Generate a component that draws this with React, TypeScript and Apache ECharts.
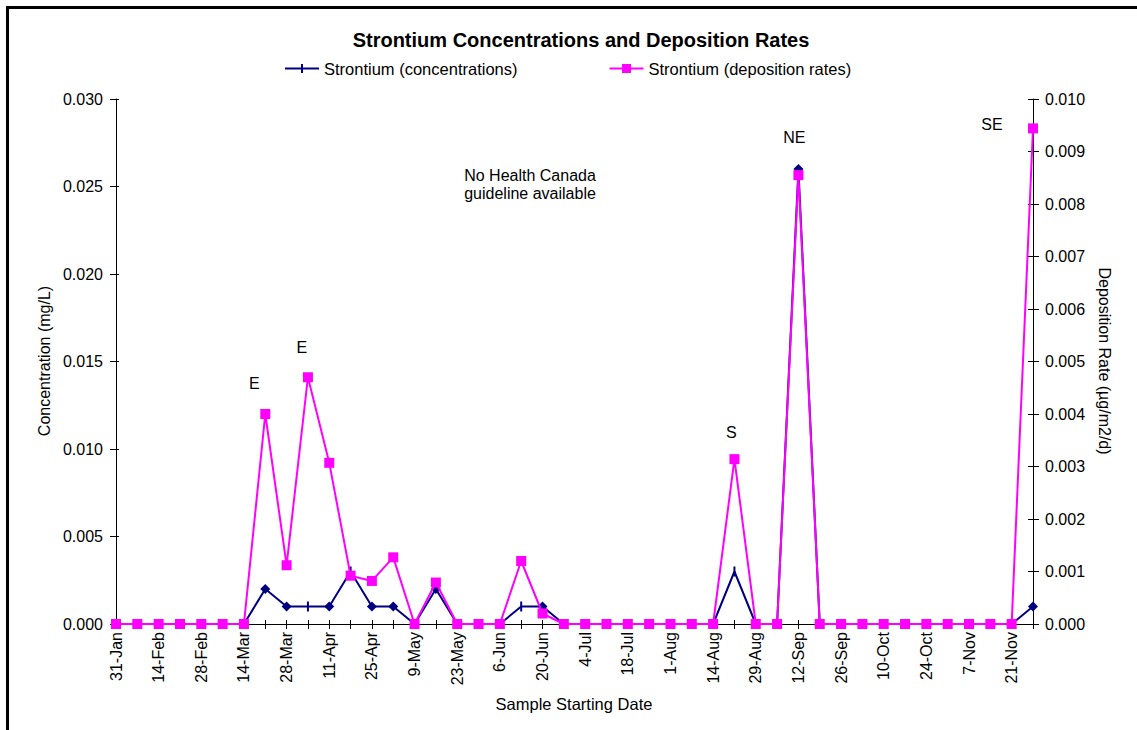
import React, { useEffect, useRef } from "react";
import * as echarts from "echarts";

// Weekly sample starting dates (every second one is labelled on the axis)
const sampleDates = [
  "31-Jan", "7-Feb", "14-Feb", "21-Feb", "28-Feb", "7-Mar", "14-Mar", "21-Mar",
  "28-Mar", "4-Apr", "11-Apr", "18-Apr", "25-Apr", "2-May", "9-May", "16-May",
  "23-May", "30-May", "6-Jun", "13-Jun", "20-Jun", "27-Jun", "4-Jul", "11-Jul",
  "18-Jul", "25-Jul", "1-Aug", "8-Aug", "14-Aug", "22-Aug", "29-Aug", "5-Sep",
  "12-Sep", "19-Sep", "26-Sep", "3-Oct", "10-Oct", "17-Oct", "24-Oct", "31-Oct",
  "7-Nov", "14-Nov", "21-Nov", "28-Nov",
];

// Strontium concentration, mg/L (left axis)
const concentration = [
  0, 0, 0, 0, 0, 0, 0, 0.002,
  0.001, 0.001, 0.001, 0.003, 0.001, 0.001, 0, 0.002,
  0, 0, 0, 0.001, 0.001, 0, 0, 0,
  0, 0, 0, 0, 0, 0.003, 0, 0,
  0.026, 0, 0, 0, 0, 0, 0, 0,
  0, 0, 0, 0.001,
];

// Strontium deposition rate, µg/m2/d (right axis)
const deposition = [
  0, 0, 0, 0, 0, 0, 0, 0.0040,
  0.00112, 0.0047, 0.00307, 0.00092, 0.00082, 0.00127, 0, 0.00079,
  0, 0, 0, 0.0012, 0.0002, 0, 0, 0,
  0, 0, 0, 0, 0, 0.00314, 0, 0,
  0.00855, 0, 0, 0, 0, 0, 0, 0,
  0, 0, 0, 0.00944,
];

// Prevailing wind direction noted above selected deposition samples
const windNotes: { index: number; text: string }[] = [
  { index: 7, text: "E" },
  { index: 9, text: "E" },
  { index: 29, text: "S" },
  { index: 32, text: "NE" },
  { index: 43, text: "SE" },
];

const concTicks = [0, 0.005, 0.01, 0.015, 0.02, 0.025, 0.03];
const depTicks = [0, 0.001, 0.002, 0.003, 0.004, 0.005, 0.006, 0.007, 0.008, 0.009, 0.01];

// Samples whose concentration marker is drawn as a diamond rather than a dash
const diamondSamples = [7, 8, 10, 12, 13, 15, 20, 32, 43];

// Label placement for the wind-direction notes (relative to the point)
const noteOffsets: Record<number, [number, number]> = {
  7: [-11, -31],
  9: [-6, -30],
  29: [-3, -27],
  32: [-4, -38],
  43: [-41, -4],
};

const FONT = "'Liberation Sans', Arial, Helvetica, sans-serif";
const NAVY = "#000080";
const MAGENTA = "#FF00FF";

const CONC_NAME = "Strontium (concentrations)";
const DEP_NAME = "Strontium (deposition rates)";

export default function App() {
  const ref = useRef<HTMLDivElement>(null);

  useEffect(() => {
    if (!ref.current) return;
    const chart = echarts.init(ref.current, undefined, { renderer: "svg" });

    const concData = concentration.map((v, i) => {
      const diamond = diamondSamples.includes(i);
      return {
        value: v,
        symbol: diamond ? "diamond" : "rect",
        symbolSize: diamond ? 10 : [2, 10],
      };
    });

    const depData = deposition.map((v, i) => {
      const note = windNotes.find((n) => n.index === i);
      if (!note) return v;
      return {
        value: v,
        label: {
          show: true,
          formatter: note.text,
          position: "inside",
          offset: noteOffsets[i] || [0, -30],
          color: "#000",
          fontSize: 16,
          fontFamily: FONT,
        },
      };
    });

    const tickFmt = (v: number) => v.toFixed(3);
    const axisCommon = {
      type: "value" as const,
      splitLine: { show: false },
    };

    chart.setOption({
      animation: false,
      backgroundColor: "#fff",
      textStyle: { fontFamily: FONT },
      title: {
        text: "Strontium Concentrations and Deposition Rates",
        left: 576,
        textAlign: "center",
        top: 25,
        textStyle: { fontSize: 20, fontWeight: "bold", color: "#000", fontFamily: FONT },
      },
      legend: {
        left: 285,
        top: 60,
        padding: 0,
        itemWidth: 34,
        itemHeight: 9,
        itemGap: 92,
        textStyle: { fontSize: 16.5, color: "#000", fontFamily: FONT },
        data: [
          { name: CONC_NAME, icon: "path://M0,3.5H34V5.5H0Z M16,0H18V9H16Z" },
          { name: DEP_NAME, icon: "path://M0,3.5H34V5.5H0Z M12.5,0H21.5V9H12.5Z" },
        ],
      },
      grid: { left: 116, right: 104, top: 99, bottom: 106, containLabel: false },
      xAxis: [
        {
          type: "category",
          data: sampleDates,
          boundaryGap: false,
          axisLine: { lineStyle: { color: "#000", width: 1 } },
          axisTick: { show: true, interval: 0, length: 5, lineStyle: { color: "#000" } },
          axisLabel: {
            interval: 1,
            rotate: 90,
            margin: 8,
            fontSize: 16,
            color: "#000",
            fontFamily: FONT,
          },
          splitLine: { show: false },
        },
        {
          type: "category",
          data: sampleDates,
          boundaryGap: false,
          position: "bottom",
          axisLine: { show: false },
          axisTick: { show: true, inside: true, interval: 0, length: 4, lineStyle: { color: "#000" } },
          axisLabel: { show: false },
          splitLine: { show: false },
        },
      ],
      yAxis: [
        {
          ...axisCommon,
          position: "left",
          min: concTicks[0],
          max: concTicks[concTicks.length - 1],
          interval: concTicks[1] - concTicks[0],
          axisLine: { show: true, lineStyle: { color: "#000", width: 1 } },
          axisTick: { show: true, length: 6, lineStyle: { color: "#000" } },
          axisLabel: { formatter: tickFmt, margin: 13, fontSize: 16, color: "#000", fontFamily: FONT },
        },
        {
          ...axisCommon,
          position: "right",
          min: depTicks[0],
          max: depTicks[depTicks.length - 1],
          interval: depTicks[1] - depTicks[0],
          axisLine: { show: true, lineStyle: { color: "#000", width: 1 } },
          axisTick: { show: true, length: 6, lineStyle: { color: "#000" } },
          axisLabel: { formatter: tickFmt, margin: 12, fontSize: 16, color: "#000", fontFamily: FONT },
        },
        {
          ...axisCommon,
          position: "left",
          min: concTicks[0],
          max: concTicks[concTicks.length - 1],
          interval: concTicks[1] - concTicks[0],
          axisLine: { show: false },
          axisTick: { show: true, inside: true, length: 3, lineStyle: { color: "#000" } },
          axisLabel: { show: false },
        },
        {
          ...axisCommon,
          position: "right",
          min: depTicks[0],
          max: depTicks[depTicks.length - 1],
          interval: depTicks[1] - depTicks[0],
          axisLine: { show: false },
          axisTick: { show: true, inside: true, length: 5, lineStyle: { color: "#000" } },
          axisLabel: { show: false },
        },
      ],
      series: [
        {
          name: CONC_NAME,
          type: "line",
          xAxisIndex: 0,
          yAxisIndex: 0,
          data: concData,
          symbol: "rect",
          symbolSize: [2, 10],
          showAllSymbol: true,
          lineStyle: { color: NAVY, width: 2 },
          itemStyle: { color: NAVY },
          z: 2,
        },
        {
          name: DEP_NAME,
          type: "line",
          xAxisIndex: 0,
          yAxisIndex: 1,
          data: depData,
          symbol: "rect",
          symbolSize: 10,
          showAllSymbol: true,
          lineStyle: { color: MAGENTA, width: 2 },
          itemStyle: { color: MAGENTA },
          z: 3,
        },
      ],
      graphic: [
        {
          type: "rect",
          shape: { x: 7.5, y: 7.5, width: 1200, height: 800 },
          style: { fill: "none", stroke: "#000", lineWidth: 3 },
          silent: true,
        },
        {
          type: "text",
          x: 44,
          y: 361,
          rotation: Math.PI / 2,
          style: {
            text: "Concentration (mg/L)",
            fontSize: 16,
            fontFamily: FONT,
            fill: "#000",
            align: "center",
            verticalAlign: "middle",
          },
        },
        {
          type: "text",
          x: 1104,
          y: 361,
          rotation: -Math.PI / 2,
          style: {
            text: "Deposition Rate (µg/m2/d)",
            fontSize: 16,
            fontFamily: FONT,
            fill: "#000",
            align: "center",
            verticalAlign: "middle",
          },
        },
        {
          type: "text",
          x: 574,
          y: 704,
          style: {
            text: "Sample Starting Date",
            fontSize: 16.5,
            fontFamily: FONT,
            fill: "#000",
            align: "center",
            verticalAlign: "middle",
          },
        },
        {
          type: "text",
          x: 530,
          y: 184,
          style: {
            text: "No Health Canada\nguideline available",
            fontSize: 16,
            lineHeight: 18,
            fontFamily: FONT,
            fill: "#000",
            align: "center",
            verticalAlign: "middle",
          },
        },
      ],
    });

    return () => chart.dispose();
  }, []);

  return (
    <div
      ref={ref}
      style={{ position: "fixed", left: 0, top: 0, width: 1137, height: 730, background: "#fff" }}
    />
  );
}
